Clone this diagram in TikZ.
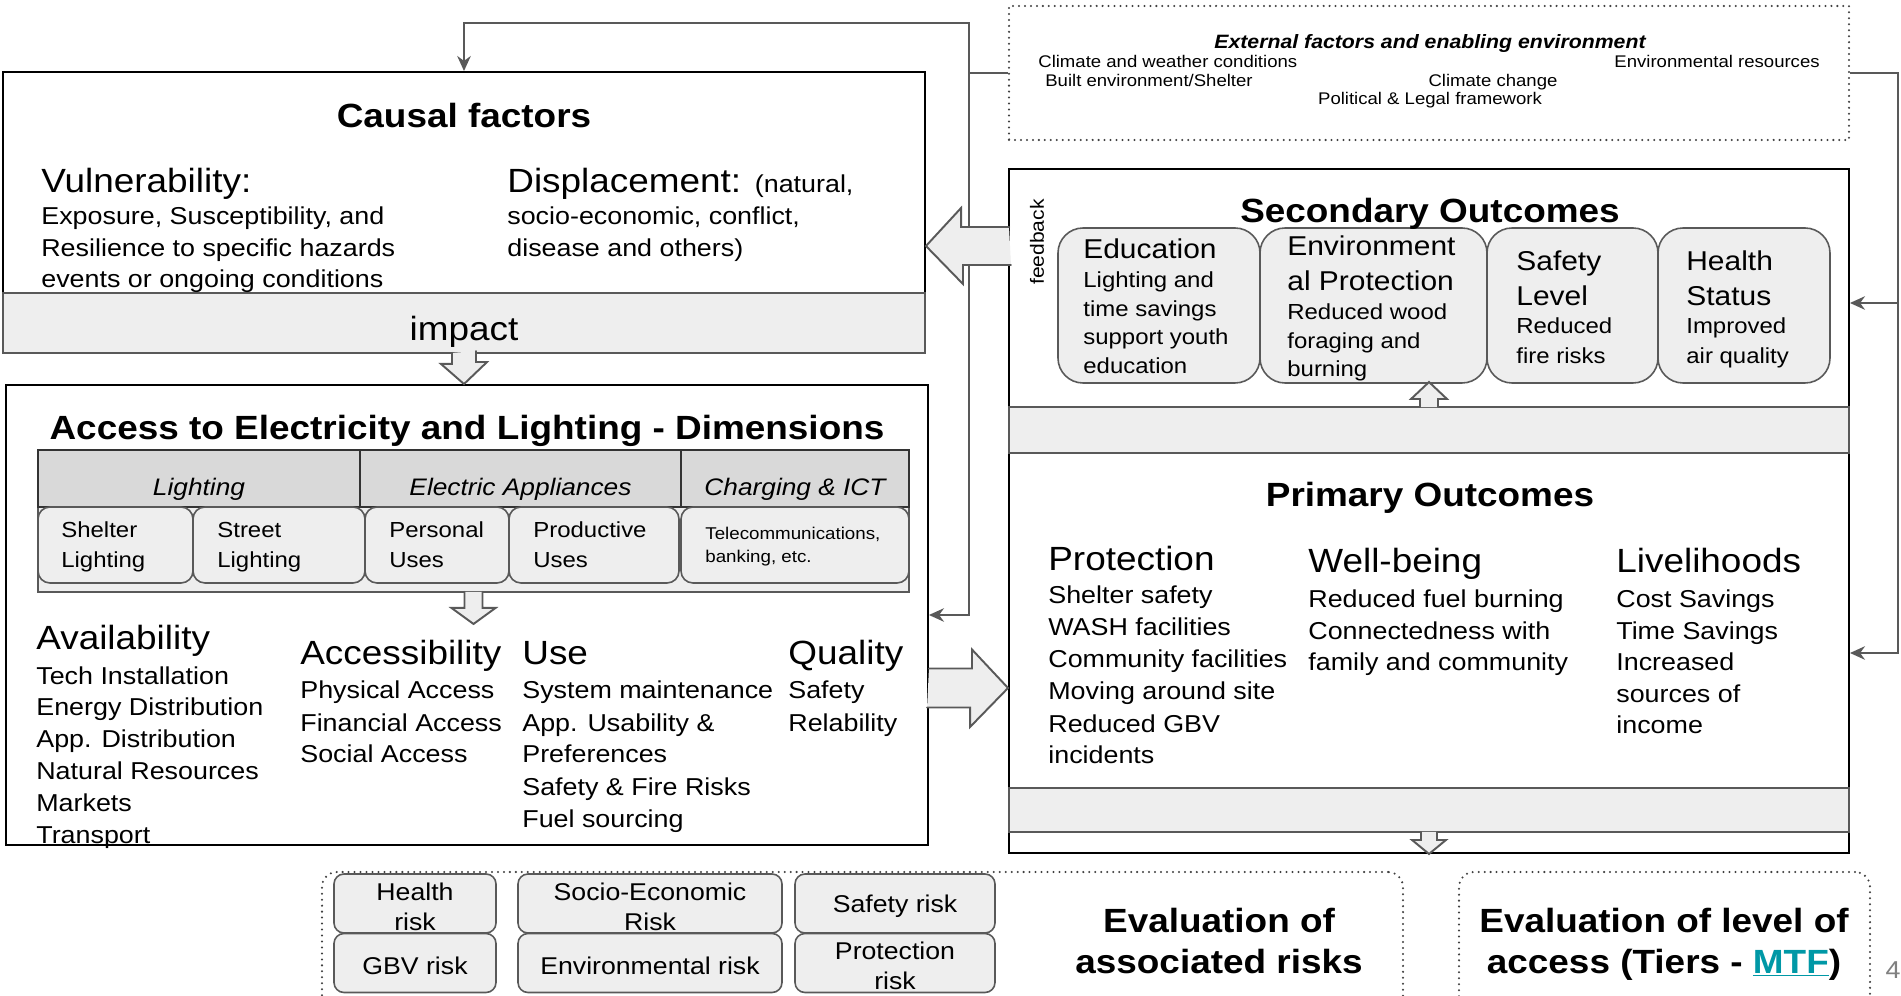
\documentclass[tikz,border=0pt]{standalone}
\usepackage{fontspec}
\setmainfont[FakeStretch=1.1]{Liberation Sans}
\usetikzlibrary{arrows.meta,calc,fit}

\definecolor{linegray}{HTML}{595959}
\definecolor{bandfill}{HTML}{EEEEEE}
\definecolor{hdrfill}{HTML}{D9D9D9}
\definecolor{mtfteal}{HTML}{0098A6}

\begin{document}
\begin{tikzpicture}[x=0.02cm, y=-0.02cm, line cap=round,
  frame/.style={draw=black, line width=1.1pt, inner sep=0pt},
  band/.style={draw=linegray, fill=bandfill, line width=1.1pt, inner sep=0pt},
  hdrcell/.style={draw=black!80, fill=hdrfill, line width=1.1pt, inner sep=0pt},
  cell/.style={draw=linegray, fill=bandfill, line width=0.9pt, inner sep=0pt},
  dotbox/.style={draw=black!75, line width=1.3pt, dash pattern=on 0pt off 3.4pt, inner sep=0pt},
  conn/.style={draw=linegray, line width=1.2pt, line cap=butt, -{Stealth[length=0.3cm, width=0.27cm]}},
  fat/.style={draw=linegray, fill=bandfill, line width=1.1pt, line join=miter},
  txt/.style={inner sep=0pt, anchor=base west},
  title/.style={inner sep=0pt, anchor=base, font=\fontsize{19.1}{23}\selectfont\bfseries},
  head/.style={txt, font=\fontsize{19.1}{23}\selectfont},
  item/.style={txt, font=\fontsize{13.9}{17}\selectfont},
  boxhead/.style={txt, font=\fontsize{15.5}{19}\selectfont},
  boxitem/.style={txt, font=\fontsize{12.4}{15}\selectfont},
  hdrtxt/.style={inner sep=0pt, anchor=base, font=\fontsize{13.6}{16}\selectfont\itshape},
  small/.style={txt, font=\fontsize{9.7}{12}\selectfont},
  exttxt/.style={txt, font=\fontsize{9.6}{12}\selectfont},
  riskcell/.style={cell, rounded corners=0.2cm},
  risktxt/.style={inner sep=0pt, align=center, font=\fontsize{13.8}{17}\selectfont}]

  \clip (0,0) rectangle (1901,996);
  \fill[white] (0,0) rectangle (1901,996);

  % external factors
  \node[dotbox, fit={(1009,6) (1849,140)}] (external) {};
  \node[inner sep=0pt, anchor=base, font=\fontsize{11}{13}\selectfont\bfseries\itshape] (exttitle) at (1430,49) {External factors and enabling environment};
  \node[exttxt] (ext1) at (1038,68) {Climate and weather conditions};
  \node[exttxt, anchor=base east] (ext2) at (1820,68) {Environmental resources};
  \node[exttxt] (ext3) at (1045,87) {Built environment/Shelter};
  \node[exttxt, anchor=base] (ext4) at (1493,87) {Climate change};
  \node[exttxt, anchor=base] (ext5) at (1430,105) {Political \& Legal framework};

  % causal factors
  \node[frame, fit={(3,72) (925,293)}] (causal) {};
  \node[band, fit={(3,293) (925,353)}] (impact) {};
  \node[title] (causaltitle) at (464,128) {Causal factors};
  \node[head] (vul) at (41,193) {Vulnerability:};
  \foreach \t [count=\i from 0] in {{Exposure, Susceptibility, and}, Resilience to specific hazards, events or ongoing conditions}
    \node[item] (vul\i) at (41,225+31.5*\i) {\t};
  \node[head] (disp) at (507,193) {Displacement: {\fontsize{13.9}{17}\selectfont (natural,}};
  \foreach \t [count=\i from 0] in {{socio-economic, conflict,}, disease and others)}
    \node[item] (disp\i) at (507,225+31.5*\i) {\t};
  \node[head, anchor=base] (impacttxt) at (464,341) {impact};

  % access dimensions
  \node[frame, fit={(6,385) (928,845)}] (access) {};
  \node[title] (accesstitle) at (467,440) {Access to Electricity and Lighting - Dimensions};
  \node[band, fit={(38,450) (909,592)}] (dims) {};
  \foreach \n/\a/\b/\t in {hdrA/38/360/Lighting, hdrB/360/681/Electric Appliances, hdrC/681/909/Charging \& ICT} {
    \node[hdrcell, fit={(\a,450) (\b,507)}] (\n) {};
    \node[hdrtxt] (\n-t) at ($(\n.south)+(0,-12)$) {\t};
  }
  \foreach \n/\a/\b in {shelter/38/193, street/193/365, personal/365/509, productive/509/679, telecom/681/909}
    \node[cell, rounded corners=0.24cm, fit={(\a,507) (\b,583)}] (\n) {};
  \foreach \n/\x/\ta/\tb in {shelter/61/Shelter/Lighting, street/217/Street/Lighting, personal/389/Personal/Uses, productive/533/Productive/Uses} {
    \node[boxitem] (\n1) at (\x,538) {\ta};
    \node[boxitem] (\n2) at (\x,568) {\tb};
  }
  \node[small] (telecom1) at (705,540) {Telecommunications,};
  \node[small] (telecom2) at (705,563) {banking, etc.};

  \node[head] (avail) at (36,650) {Availability};
  \foreach \t [count=\i from 0] in {Tech Installation, Energy Distribution, App. Distribution, Natural Resources, Markets, Transport}
    \node[item] (avail\i) at (36,684+31.8*\i) {\t};
  \node[head] (accb) at (300,665) {Accessibility};
  \foreach \t [count=\i from 0] in {Physical Access, Financial Access, Social Access}
    \node[item] (accb\i) at (300,699+32*\i) {\t};
  \node[head] (use) at (522,665) {Use};
  \foreach \t [count=\i from 0] in {System maintenance, App. Usability \&, Preferences, Safety \& Fire Risks, Fuel sourcing}
    \node[item] (use\i) at (522,699+32*\i) {\t};
  \node[head] (quality) at (788,665) {Quality};
  \foreach \t [count=\i from 0] in {Safety, Relability}
    \node[item] (quality\i) at (788,699+32*\i) {\t};

  % outcomes
  \node[frame, fit={(1009,169) (1849,407)}] (secondary) {};
  \node[frame, fit={(1009,453) (1849,853)}] (primary) {};
  \node[band, fit={(1009,407) (1849,453)}] (linkband) {};
  \node[band, fit={(1009,788) (1849,832)}] (exitband) {};

  \foreach \n/\a/\b in {edu/1058/1260, env/1260/1487, safety/1487/1658, health/1658/1830}
    \node[cell, rounded corners=0.5cm, fit={(\a,228) (\b,383)}] (\n) {};
  \node[title] (sectitle) at (1430,223) {Secondary Outcomes};
  \node[inner sep=0pt, rotate=90, font=\fontsize{10.9}{13}\selectfont] (feedback) at (1037,242) {feedback};

  \node[boxhead] (edu-h) at (1083,259) {Education};
  \foreach \t [count=\i from 0] in {Lighting and, time savings, support youth, education}
    \node[boxitem] (edu\i) at (1083,288+28.5*\i) {\t};
  \node[boxhead] (env-h) at (1287,256) {Environment};
  \node[boxhead] (env-h2) at (1287,291) {al Protection};
  \foreach \t [count=\i from 0] in {Reduced wood, foraging and, burning}
    \node[boxitem] (env\i) at (1287,320+28.5*\i) {\t};
  \node[boxhead] (safety-h) at (1516,271) {Safety};
  \node[boxhead] (safety-h2) at (1516,306) {Level};
  \foreach \t [count=\i from 0] in {Reduced, fire risks}
    \node[boxitem] (safety\i) at (1516,334+29.5*\i) {\t};
  \node[boxhead] (health-h) at (1686,271) {Health};
  \node[boxhead] (health-h2) at (1686,306) {Status};
  \foreach \t [count=\i from 0] in {Improved, air quality}
    \node[boxitem] (health\i) at (1686,334+29.5*\i) {\t};

  \node[title] (primtitle) at (1430,507) {Primary Outcomes};
  \node[head] (prot) at (1048,571) {Protection};
  \foreach \t [count=\i from 0] in {Shelter safety, WASH facilities, Community facilities, Moving around site, Reduced GBV, incidents}
    \node[item] (prot\i) at (1048,604+32*\i) {\t};
  \node[head] (well) at (1308,573) {Well-being};
  \foreach \t [count=\i from 0] in {Reduced fuel burning, Connectedness with, family and community}
    \node[item] (well\i) at (1308,608+31.5*\i) {\t};
  \node[head] (live) at (1616,573) {Livelihoods};
  \foreach \t [count=\i from 0] in {Cost Savings, Time Savings, Increased, sources of, income}
    \node[item] (live\i) at (1616,608+31.5*\i) {\t};

  % evaluation
  \node[dotbox, rounded corners=0.3cm, fit={(322,872) (1403,1020)}] (risks) {};
  \node[dotbox, rounded corners=0.3cm, fit={(1459,872) (1870,1020)}] (tiers) {};
  \foreach \n/\a/\b/\r/\t in {rhealth/334/496/0/{Health\\risk}, rsocio/518/782/0/{Socio-Economic\\Risk}, rsafety/795/995/0/{Safety risk},
      rgbv/334/496/1/{GBV risk}, renv/518/782/1/{Environmental risk}, rprot/795/995/1/{Protection\\risk}} {
    \node[riskcell, fit={(\a,874+59.5*\r) (\b,933+59.5*\r)}] (\n) {};
    \node[risktxt] (\n-t) at ($(\n.center)+(0,3)$) {\t};
  }
  \node[title] (risks1) at (1219,932) {Evaluation of};
  \node[title] (risks2) at (1219,973) {associated risks};
  \node[title] (tiers1) at (1664,932) {Evaluation of level of};
  \node[title] (tiers2) at (1664,973) {access (Tiers - \textcolor{mtfteal}{\underline{MTF}})};
  \node[inner sep=0pt, anchor=base, text=black!50, font=\fontsize{13.9}{17}\selectfont] (pagenum) at (1893,978) {4};

  % connectors
  \coordinate (jl) at (969,73);
  \coordinate (jt) at (969,23);
  \coordinate (jr) at (1898,73);
  \draw[conn] (external.west) -- (jl) -- (jt) -| (causal.north);
  \draw[conn] (jl) |- (access.east);
  \draw[conn] (external.east) -- (jr) |- (primary.east);
  \draw[conn] (jr) |- ($(secondary.east)+(0,15)$);

  % block arrows
  \draw[fat] ($(impact.south)+(-12,-1)$) -- ++(0,11) -- ++(-11,0) -- (impact.south |- access.north) -- ++(23,-22) -- ++(-11,0) -- ++(0,-11);
  \draw[fat] ($(dims.south)+(-9,-1)$) -- ++(0,16) -- ++(-13,0) -- ++(22,16) -- ++(22,-16) -- ++(-13,0) -- ++(0,-16);
  \draw[fat] ($(linkband.north)+(-9,1)$) -- ++(0,-8) -- ++(-9,0) -- ++(18,-17) -- ++(18,17) -- ++(-9,0) -- ++(0,8);
  \draw[fat] ($(exitband.south)+(-8,-1)$) -- ++(0,8) -- ++(-9,0) -- ++(17,14) -- ++(17,-14) -- ++(-9,0) -- ++(0,-8);
  \coordinate (fb) at ($(secondary.west)+(0,-42)$);
  \draw[fat] ($(fb)+(1,-19)$) -- ++(-48,0) -- ++(0,-19) -- (causal.east |- fb) -- ++(37,38) -- ++(0,-19) -- ++(48,0);
  \coordinate (ra) at ($(access.east)+(0,73)$);
  \draw[fat] ($(ra)+(0,-19.5)$) -- ++(43,0) -- ++(0,-19) -- (primary.west |- ra) -- ++(-38,39) -- ++(0,-19.5) -- ++(-43,0);
\end{tikzpicture}
\end{document}
